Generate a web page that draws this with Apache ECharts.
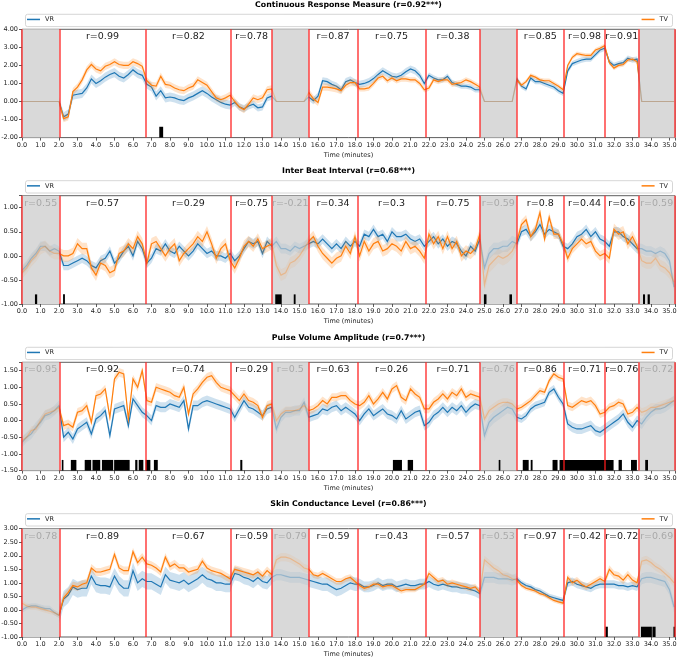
<!DOCTYPE html>
<html>
<head>
<meta charset="utf-8">
<title>VR vs TV</title>
<script src="https://cdn.jsdelivr.net/npm/echarts@6/dist/echarts.min.js"></script>
<style>
html, body { margin: 0; padding: 0; background: #fff; }
#main { width: 677px; height: 658px; }
</style>
</head>
<body>
<div id="main"></div>
<script>
// traces are sampled every quarter minute, first sample at 0
var STEP = 0.25;
// segment borders (minutes), grey = baseline segments
var bounds = [0, 2.02, 6.68, 11.31, 13.52, 15.49, 18.13, 21.83, 24.76, 26.74, 29.3, 31.52, 33.32, 35.3];
var isBase = [1, 0, 0, 0, 1, 0, 0, 0, 1, 0, 0, 0, 1];

var titles = ['Continuous Response Measure (r=0.92***)', 'Inter Beat Interval (r=0.68***)',
              'Pulse Volume Amplitude (r=0.7***)', 'Skin Conductance Level (r=0.86***)'];
var yMin = [-2, -1, -1.5, -1];
var yMax = [4, 1.25, 1.75, 3];
var yStep = [1, 0.5, 0.5, 0.5];

// --- Continuous Response Measure ---
var crmVR = [0,0,0,0, 0,0,0,0, 0,-0.85,-0.7,0.35, 0.4,0.45,0.75,1.25, 1.0,1.15,1.35,1.5,
  1.6,1.4,1.3,1.5, 1.75,1.55,1.45,0.95, 0.8,0.3,0.6,0.2, 0.25,0.2,0.1,0.05, 0.2,0.3,0.45,0.6,
  0.45,0.25,0.1,-0.05, -0.15,-0.2,-0.05,-0.3, -0.4,-0.25,-0.15,-0.35, -0.3,0.2,0.3,0, 0,0,0,0,
  0,0,0.25,0.05, 0.3,1.15,1.1,0.95, 0.85,0.65,1.1,1.2, 1.05,0.95,1.0,1.1, 1.27,1.5,1.7,1.55,
  1.4,1.35,1.45,1.65, 1.8,1.7,1.45,1.0, 1.45,1.3,1.2,1.2, 1.4,1.05,0.95,0.85, 0.85,0.8,0.65,0.65,
  0,0,0,0, 0,0,0,1.25, 0.85,0.7,1.3,1.1, 1.1,1.0,0.9,0.8, 0.6,0.45,1.7,2.1,
  2.2,2.3,2.35,2.35, 2.6,2.85,2.95,2.2, 2.0,2.1,2.15,2.4, 2.3,2.35,0,0, 0,0,0,0, 0,0];
var crmTV = [0,0,0,0, 0,0,0,0, 0,-0.95,-0.85,0.55, 0.8,1.2,1.75,2.05, 1.8,1.7,1.95,2.05,
  2.2,2.05,2.0,2.0, 2.2,2.1,1.95,1.15, 0.9,0.85,1.4,0.95, 0.9,0.75,0.65,0.6, 0.75,0.85,1.2,1.05,
  0.9,0.55,0.2,0.1, 0.2,0.35,0.0,-0.3, -0.45,-0.15,0.2,0.1, 0.2,0.65,0.7,0, 0,0,0,0,
  0,0,0.5,0.15, -0.05,0.8,0.8,0.75, 0.7,0.6,0.9,1.05, 1.05,0.7,0.7,0.75, 1.0,1.3,1.4,1.15,
  1.3,1.15,1.25,1.25, 1.2,1.2,1.0,0.65, 0.75,1.2,1.1,1.2, 1.2,0.95,1.0,1.05, 1.2,1.1,0.95,0.8,
  0,0,0,0, 0,0,0,1.2, 0.9,1.1,1.45,1.35, 1.2,1.15,1.15,1.0, 0.85,0.65,2.0,2.45,
  2.65,2.6,2.55,2.55, 2.85,2.95,3.1,2.15, 1.85,2.0,2.05,2.3, 2.35,2.2,0,0, 0,0,0,0, 0,0];
var crmBandVR = [0, 0.25, 0.25, 0.2, 0, 0.2, 0.2, 0.15, 0, 0.15, 0.15, 0.15, 0];
var crmBandTV = [0, 0.2, 0.2, 0.2, 0, 0.2, 0.15, 0.15, 0, 0.12, 0.12, 0.12, 0];
var crmR = [null, '0.99', '0.82', '0.78', null, '0.87', '0.75', '0.38', null, '0.85', '0.98', '0.91', null];
var crmSig = [[7.42, 7.63]];

// --- Inter Beat Interval ---
var ibiVR = [-0.3,-0.2,-0.05,0.05, 0.2,0.2,0.1,0.15, 0.1,-0.2,-0.2,-0.15, -0.1,-0.05,-0.1,-0.2,
  -0.25,-0.1,-0.05,0.1, -0.15,-0.05,0.1,0.2, 0.0,0.3,0.15,-0.15, -0.05,0.15,0.1,0.25, 0.1,0.05,0.2,0.1,
  0.0,0.1,0.25,0.15, 0.05,0.1,0.0,0.0, -0.05,0.05,-0.1,0.0, 0.15,0.3,0.25,0.3, 0.05,0.3,0.2,0.3,
  0.15,0.15,0.1,0.2, 0.15,0.2,0.25,0.3, 0.25,0.35,0.25,0.15, 0.25,0.15,0.3,0.2, 0.3,0.2,0.45,0.4,
  0.55,0.4,0.45,0.3, 0.5,0.4,0.4,0.45, 0.35,0.3,0.35,0.2, 0.3,0.4,0.25,0.35, 0.2,0.3,0.25,0.1,
  0.0,0.2,0.1,0.35, -0.25,0.05,0.15,0.15, 0.2,0.2,0.3,0.25, 0.5,0.55,0.4,0.5, 0.65,0.45,0.55,0.5,
  0.45,0.2,0.15,0.25, 0.4,0.45,0.55,0.4, 0.5,0.35,0.3,0.2, 0.5,0.5,0.4,0.35, 0.25,0.15,0.15,0.1,
  0.1,0.05,0.1,0.05, -0.1,-0.65];
var ibiTV = [-0.35,-0.25,-0.1,0.0, 0.15,0.2,0.1,0.05, 0.05,0.0,0.0,0.05, 0.25,0.15,0.15,-0.25,
  -0.4,-0.15,-0.2,-0.35, -0.3,0.05,0.1,0.25, 0.15,0.4,0.25,-0.15, 0.25,0.3,0.15,0.0, 0.15,0.25,-0.1,0.05,
  0.15,0.25,0.4,0.3, 0.5,0.25,-0.05,0.15, 0.25,-0.1,-0.25,-0.05, 0.2,0.3,0.2,0.35, 0.15,0.2,0.25,-0.2,
  -0.4,-0.35,-0.15,-0.1, 0.0,0.15,0.3,0.4, 0.2,0.05,-0.05,-0.15, -0.05,0.0,0.2,0.05, 0.4,0.0,0.3,0.1,
  0.25,0.3,0.1,0.15, 0.25,0.2,0.1,0.3, 0.15,0.2,0.1,-0.05, 0.45,0.25,0.4,0.15, 0.4,0.15,0.3,0.0,
  0.1,0.05,0.15,0.45, -0.6,-0.2,-0.1,0.0, -0.05,0.0,0.1,0.3, 0.65,0.75,0.4,0.55, 0.9,0.35,0.8,0.45,
  0.45,0.25,-0.05,0.15, 0.25,0.35,0.25,0.3, 0.1,0.0,0.05,-0.05, 0.55,0.45,0.5,0.25, 0.4,0.2,-0.1,-0.15,
  -0.15,-0.05,-0.2,-0.25, -0.35,-0.55];
var ibiBandVR = [0.1, 0.1, 0.1, 0.1, 0.1, 0.1, 0.1, 0.1, 0.12, 0.1, 0.1, 0.1, 0.1];
var ibiBandTV = [0.12, 0.12, 0.12, 0.12, 0.12, 0.12, 0.12, 0.12, 0.15, 0.1, 0.1, 0.12, 0.12];
var ibiR = ['0.55', '0.57', '0.29', '0.75', '-0.21', '0.34', '0.3', '0.75', '0.59', '0.8', '0.44', '0.6', '0.59'];
var ibiSig = [[0.7, 0.82], [2.22, 2.32], [13.69, 14.04], [14.69, 14.79], [24.97, 25.11],
              [26.35, 26.49], [33.57, 33.68], [33.82, 33.94]];

// --- Pulse Volume Amplitude ---
var pvaVR = [-0.65,-0.5,-0.4,-0.2, -0.05,0.15,0.2,0.3, 0.45,-0.5,-0.35,-0.55, -0.25,-0.15,-0.05,-0.4,
  0.05,0.15,0.3,-0.45, 0.35,0.4,0.45,-0.15, 0.65,0.45,0.25,0.15, 0.0,0.45,0.4,0.4, 0.5,0.45,0.4,0.6,
  -0.25,0.45,0.45,0.55, 0.6,0.55,0.5,0.45, 0.4,0.35,0.1,0.35, 0.6,0.4,0.35,0.25, 0.15,0.35,0.4,-0.25,
  0.1,0.25,0.25,0.3, 0.3,0.55,0.1,0.15, 0.2,0.35,0.3,0.4, 0.45,0.3,0.4,0.3, 0.2,0.0,0.2,0.35,
  0.15,0.25,0.35,0.2, 0.15,0.05,0.3,0.05, 0.15,0.25,0.3,-0.15, -0.05,0.15,0.25,0.4, 0.25,0.4,0.3,0.45,
  0.25,0.4,0.5,0.45, -0.45,-0.05,0.1,0.2, 0.3,0.4,0.35,0.1, 0.05,0.15,0.35,0.45, 0.5,0.55,0.85,0.95,
  0.7,0.5,-0.1,-0.2, -0.25,-0.25,-0.2,-0.15, -0.3,-0.35,-0.25,-0.15, -0.05,0.05,0.2,-0.05, -0.2,0.0,-0.1,0.1,
  0.25,0.35,0.35,0.4, 0.5,0.6];
var pvaTV = [-0.6,-0.5,-0.3,-0.25, 0.0,0.2,0.25,0.3, 0.4,-0.15,-0.1,-0.2, 0.25,0.3,0.45,-0.05,
  0.75,0.8,0.95,0.1, 1.25,1.45,1.4,0.05, 1.25,1.0,1.5,0.6, 0.55,1.0,0.95,0.9, 0.85,0.75,0.7,1.0,
  0.2,0.8,0.95,1.15, 1.3,1.35,1.15,1.0, 0.95,0.9,0.75,0.6, 0.8,0.6,0.55,0.45, 0.1,0.45,0.5,0.0,
  0.2,0.3,0.3,0.3, 0.35,0.45,0.3,0.35, 0.45,0.6,0.5,0.7, 0.7,0.75,0.75,0.6, 0.5,0.45,0.55,0.75,
  0.5,0.65,0.85,0.65, 0.95,1.05,0.7,0.6, 0.95,0.8,0.7,0.35, 0.35,0.55,0.65,0.8, 0.65,0.85,0.75,0.95,
  0.7,0.8,0.75,0.7, 0.05,0.3,0.4,0.5, 0.55,0.55,0.5,0.35, 0.4,0.5,0.6,0.75, 0.9,0.85,1.2,1.4,
  1.3,1.25,0.45,0.4, 0.5,0.6,0.55,0.6, 0.45,0.2,0.25,0.4, 0.45,0.55,0.5,0.2, 0.25,0.4,0.25,0.3,
  0.4,0.4,0.45,0.5, 0.55,0.6];
var pvaBandVR = [0.15, 0.15, 0.15, 0.15, 0.15, 0.15, 0.15, 0.15, 0.18, 0.12, 0.15, 0.15, 0.15];
var pvaBandTV = [0.12, 0.13, 0.13, 0.13, 0.12, 0.12, 0.13, 0.13, 0.12, 0.1, 0.12, 0.12, 0.12];
var pvaR = ['0.95', '0.92', '0.74', '0.29', '0.5', '0.63', '0.26', '0.71', '0.76', '0.86', '0.71', '0.76', '0.72'];
var pvaSig = [[2.15, 2.24], [2.64, 2.94], [3.39, 3.74], [3.81, 4.23], [4.32, 4.93], [4.98, 5.82],
              [6.12, 6.24], [6.31, 6.56], [6.68, 6.94], [7.13, 7.34], [11.8, 11.91], [20.05, 20.54],
              [20.85, 21.14], [25.77, 25.86], [27.07, 27.39], [27.5, 27.6], [28.68, 28.95],
              [29.06, 31.98], [32.25, 32.43], [32.92, 33.24], [33.69, 33.84]];

// --- Skin Conductance Level ---
var sclVR = [0.0,0.1,0.15,0.15, 0.1,0.05,0.05,-0.1, -0.2,0.4,0.55,0.85, 0.75,0.8,0.8,1.25,
  0.95,0.9,0.9,0.85, 1.25,0.95,0.8,0.8, 1.45,1.0,1.15,1.05, 1.05,0.95,0.85,1.3, 1.1,1.05,1.0,1.1,
  0.95,1.05,1.15,1.3, 1.15,1.1,1.0,1.0, 0.95,0.95,1.35,1.3, 1.2,1.15,1.05,1.2, 1.05,1.0,1.2,1.3,
  1.3,1.25,1.2,1.2, 1.2,1.15,1.1,1.05, 1.0,0.95,0.95,0.85, 0.75,0.8,0.9,1.0, 0.95,0.95,0.85,0.85,
  0.9,1.0,0.9,0.95, 0.95,0.85,0.9,0.95, 0.9,0.9,0.95,0.95, 1.05,0.95,0.9,0.95, 0.9,0.85,0.85,0.8,
  0.8,0.75,0.7,0.6, 1.2,1.2,1.2,1.15, 1.15,1.15,1.1,1.15, 1.0,0.9,0.85,0.75, 0.7,0.6,0.5,0.45,
  0.4,0.35,1.0,1.05, 0.95,0.9,0.85,0.8, 0.9,0.95,0.95,0.95, 0.95,0.9,0.9,0.85, 0.9,0.85,1.15,1.2,
  1.2,1.15,1.1,1.05, 0.75,0.1];
var sclTV = [0.25,0.15,0.1,0.1, 0.05,0.0,-0.05,-0.1, -0.2,0.45,0.65,0.9, 0.85,0.95,1.0,1.55,
  1.4,1.4,1.45,1.5, 2.05,1.55,1.45,1.45, 2.15,1.75,1.95,1.7, 1.65,1.55,1.4,1.95, 1.6,1.7,1.55,1.55,
  1.4,1.45,1.5,1.8, 1.55,1.45,1.4,1.35, 1.25,1.15,1.5,1.45, 1.4,1.35,1.3,1.4, 1.25,1.45,1.3,1.85,
  1.95,1.95,1.9,1.8, 1.7,1.55,1.5,1.3, 1.25,1.35,1.25,1.15, 1.05,1.05,1.15,1.2, 1.05,0.9,0.8,0.85,
  0.95,0.95,0.85,0.9, 0.9,0.8,0.7,0.75, 0.75,0.75,0.85,0.95, 1.35,1.2,1.05,1.1, 0.95,1.0,0.95,0.9,
  0.85,0.8,0.85,0.65, 1.85,1.7,1.55,1.45, 1.3,1.25,1.15,1.1, 0.9,0.8,0.75,0.7, 0.6,0.55,0.45,0.35,
  0.3,0.25,1.2,1.0, 1.1,0.95,0.85,0.95, 1.05,1.15,1.05,1.5, 1.3,1.25,1.1,1.3, 1.1,1.0,1.8,1.85,
  1.75,1.6,1.5,1.35, 1.2,1.0];
var sclBandVR = [0.1, 0.3, 0.3, 0.25, 0.2, 0.25, 0.2, 0.2, 0.2, 0.1, 0.15, 0.15, 0.2];
var sclBandTV = [0.1, 0.15, 0.15, 0.15, 0.15, 0.12, 0.1, 0.12, 0.15, 0.08, 0.12, 0.15, 0.15];
var sclR = ['0.78', '0.89', '0.67', '0.59', '0.79', '0.59', '0.43', '0.57', '0.53', '0.97', '0.42', '0.72', '0.69'];
var sclSig = [[31.54, 31.67], [33.46, 34.05], [34.08, 34.25], [35.22, 35.3]];

var sigTop = [-1.4, -0.8, -1.18, -0.62];

var vrAll = [crmVR, ibiVR, pvaVR, sclVR];
var tvAll = [crmTV, ibiTV, pvaTV, sclTV];
var bandVRAll = [crmBandVR, ibiBandVR, pvaBandVR, sclBandVR];
var bandTVAll = [crmBandTV, ibiBandTV, pvaBandTV, sclBandTV];
var rAll = [crmR, ibiR, pvaR, sclR];
var sigAll = [crmSig, ibiSig, pvaSig, sclSig];

var BLUE = '#1f77b4', ORANGE = '#ff7f0e';
var FONT = 'DejaVu Sans';
var plotTop = [29.3, 195.7, 362.3, 528.7];
var plotH = 108.3;

var segData = [];
for (var s = 0; s < bounds.length - 1; s++) segData.push([(bounds[s] + bounds[s + 1]) / 2, 0]);

// band + line for one segment of one trace, clipped to the segment
function traceItem(vals, band, color) {
  return function (params, api) {
    var s = params.dataIndex;
    var idx = [];
    for (var k = 0; k < vals.length; k++) {
      var t = k * STEP;
      if (t >= bounds[s] && t < bounds[s + 1]) idx.push(k);
    }
    if (!idx.length) return null;
    if (idx[0] > 0) idx.unshift(idx[0] - 1);
    if (idx[idx.length - 1] < vals.length - 1) idx.push(idx[idx.length - 1] + 1);
    var line = [], up = [], lo = [];
    idx.forEach(function (k) {
      var t = k * STEP, v = vals[k], b = band[s];
      line.push(api.coord([t, v]));
      up.push(api.coord([t, v + b]));
      lo.unshift(api.coord([t, v - b]));
    });
    var faded = isBase[s] === 1;
    var kids = [];
    if (band[s] > 0) {
      kids.push({ type: 'polygon', shape: { points: up.concat(lo) },
        style: { fill: color, opacity: faded ? 0.08 : 0.22 }, silent: true });
    }
    kids.push({ type: 'polyline', shape: { points: line },
      style: { stroke: color, fill: null, lineWidth: 1.2, opacity: faded ? 0.32 : 1 } });
    var x0 = api.coord([bounds[s], 0])[0], x1 = api.coord([bounds[s + 1], 0])[0];
    return { type: 'group', children: kids,
      clipPath: { type: 'rect', shape: { x: x0, y: 0, width: x1 - x0, height: api.getHeight() } } };
  };
}

function rItem(labels, top) {
  return function (params, api) {
    var s = params.dataIndex;
    if (!labels[s]) return null;
    var p = api.coord([(bounds[s] + bounds[s + 1]) / 2, top]);
    return { type: 'text', x: p[0], y: p[1] + 7.5, silent: true,
      style: { text: 'r=' + labels[s], fill: isBase[s] ? '#a9a9a9' : '#222',
        fontSize: 9.5, fontFamily: FONT, align: 'center', verticalAlign: 'middle' } };
  };
}

function onStep(v, step) {
  return Math.abs(v / step - Math.round(v / step)) < 1e-6;
}

var grids = [], xAxes = [], yAxes = [], series = [], legends = [], elements = [];

for (var i = 0; i < 4; i++) {
  (function (i) {
    grids.push({ left: 22, right: 2, top: plotTop[i], height: plotH, show: true,
      borderColor: '#333', borderWidth: 0.8, backgroundColor: '#fff', outerBoundsMode: 'none' });
    xAxes.push({ gridIndex: i, type: 'value', min: 0, max: 35.3, interval: 1,
      axisLine: { show: false, onZero: false }, splitLine: { show: false },
      axisTick: { show: true, length: 3, lineStyle: { color: '#333', width: 0.8 } },
      axisLabel: { fontSize: 6.5, color: '#222', fontFamily: FONT, margin: 4, hideOverlap: false,
        formatter: function (v) { return onStep(v, 1) ? v.toFixed(1) : ''; } },
      name: 'Time (minutes)', nameLocation: 'middle', nameGap: 14,
      nameTextStyle: { fontSize: 6.5, color: '#222', fontFamily: FONT } });
    yAxes.push({ gridIndex: i, type: 'value', min: yMin[i], max: yMax[i], interval: yStep[i],
      axisLine: { show: false, onZero: false }, splitLine: { show: false },
      axisTick: { show: true, length: 3, lineStyle: { color: '#333', width: 0.8 } },
      axisLabel: { fontSize: 6.5, color: '#222', fontFamily: FONT, margin: 4, hideOverlap: false,
        formatter: function (v) { return onStep(v, yStep[i]) ? v.toFixed(2) : ''; } } });

    var greyAreas = [];
    for (var s = 0; s < isBase.length; s++) {
      if (isBase[s]) greyAreas.push([{ xAxis: bounds[s] }, { xAxis: bounds[s + 1] }]);
    }
    series.push({ name: 'bg' + i, type: 'line', xAxisIndex: i, yAxisIndex: i, data: [], z: 1, silent: true,
      markArea: { silent: true, itemStyle: { color: '#d9d9d9' }, data: greyAreas } });

    series.push({ name: 'VR', type: 'custom', xAxisIndex: i, yAxisIndex: i, data: segData,
      encode: { x: 0, y: 1 }, clip: true, z: 2, itemStyle: { color: BLUE },
      renderItem: traceItem(vrAll[i], bandVRAll[i], BLUE) });
    series.push({ name: 'TV', type: 'custom', xAxisIndex: i, yAxisIndex: i, data: segData,
      encode: { x: 0, y: 1 }, clip: true, z: 2, itemStyle: { color: ORANGE },
      renderItem: traceItem(tvAll[i], bandTVAll[i], ORANGE) });

    var bars = sigAll[i].map(function (b) {
      return [{ xAxis: b[0], yAxis: yMin[i] }, { xAxis: b[1], yAxis: sigTop[i] }];
    });
    series.push({ name: 'marks' + i, type: 'line', xAxisIndex: i, yAxisIndex: i, data: [], z: 4, silent: true,
      markArea: { silent: true, itemStyle: { color: '#000' }, data: bars },
      markLine: { silent: true, symbol: ['none', 'none'], label: { show: false },
        lineStyle: { color: 'rgba(255,30,30,0.7)', width: 1.8, type: 'solid' },
        data: bounds.map(function (b) { return { xAxis: b }; }) } });

    series.push({ name: 'r' + i, type: 'custom', xAxisIndex: i, yAxisIndex: i, data: segData,
      encode: { x: 0, y: 1 }, z: 5, silent: true, renderItem: rItem(rAll[i], yMax[i]) });

    var boxY = plotTop[i] - 15;
    elements.push({ type: 'rect', z: 0, silent: true,
      shape: { x: 25.5, y: boxY, width: 647, height: 12.3, r: 2 },
      style: { fill: '#fff', stroke: '#ccc', lineWidth: 0.8 } });
    elements.push({ type: 'text', x: 348.5, y: plotTop[i] - 24.5, silent: true,
      style: { text: titles[i], fontSize: 7.8, fontWeight: 'bold', fontFamily: FONT, fill: '#000',
        align: 'center', verticalAlign: 'middle' } });

    var legendCommon = { top: boxY + 6.15 - 4.5, padding: 0, itemWidth: 13, itemHeight: 1.5,
      textStyle: { fontSize: 6.5, color: '#222', fontFamily: FONT }, selectedMode: false };
    legends.push(Object.assign({ left: 27, data: [{ name: 'VR', icon: 'rect' }] }, legendCommon));
    legends.push(Object.assign({ right: 9, data: [{ name: 'TV', icon: 'rect' }] }, legendCommon));
  })(i);
}

var chart = echarts.init(document.getElementById('main'));
chart.setOption({
  animation: false,
  backgroundColor: '#fff',
  textStyle: { fontFamily: FONT },
  grid: grids,
  xAxis: xAxes,
  yAxis: yAxes,
  legend: legends,
  graphic: { elements: elements },
  series: series
});
</script>
</body>
</html>
